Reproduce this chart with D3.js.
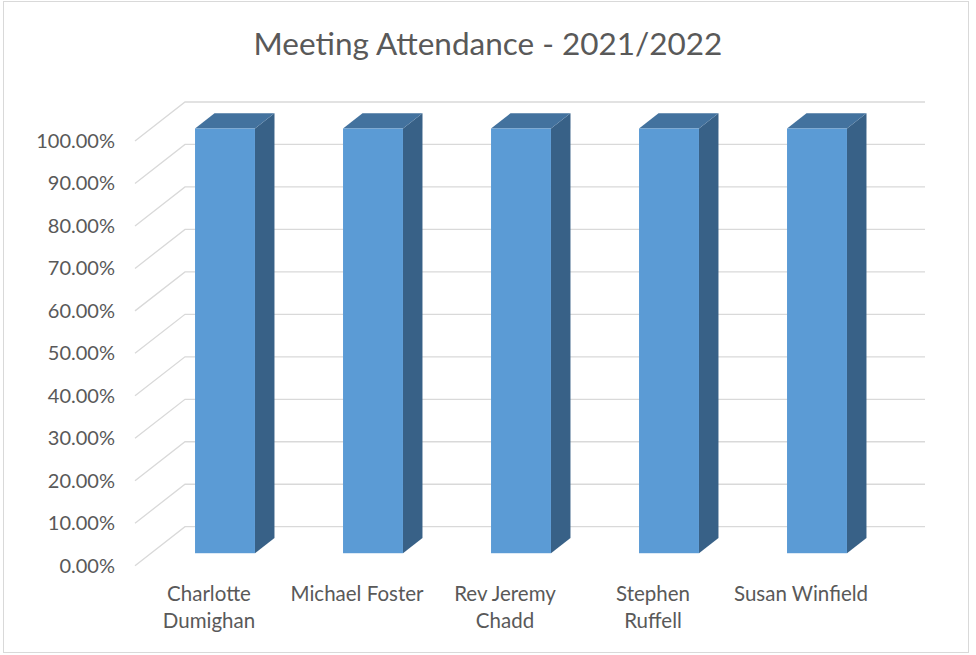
<!DOCTYPE html>
<html>
<head>
<meta charset="utf-8">
<script src="https://cdn.jsdelivr.net/npm/d3@7"></script>
<style>
  body { margin: 0; background: #fff; }
  text { font-family: Lato, "Open Sans", sans-serif; fill: #595959; }
</style>
</head>
<body>
<svg width="976" height="655"></svg>
<script>
var categories = ["Charlotte Dumighan", "Michael Foster", "Rev Jeremy Chadd", "Stephen Ruffell", "Susan Winfield"];
var labelLines = [["Charlotte", "Dumighan"], ["Michael Foster"], ["Rev Jeremy", "Chadd"], ["Stephen", "Ruffell"], ["Susan Winfield"]];
var attendance = [1.0, 1.0, 1.0, 1.0, 1.0];
var yTicks = [0, 0.1, 0.2, 0.3, 0.4, 0.5, 0.6, 0.7, 0.8, 0.9, 1.0];

var svg = d3.select("svg"),
    width = +svg.attr("width"),
    height = +svg.attr("height");

// chart border
svg.append("rect")
    .attr("x", 3.5).attr("y", 1.5)
    .attr("width", 965).attr("height", 651)
    .attr("fill", "#fff")
    .attr("stroke", "#d9d9d9");

// 3d depth of the plot box
var depth = { dx: 50, dy: -39 };
var barNear = 0.32, barFar = 0.71;

var x = d3.scaleBand()
    .domain(categories)
    .range([135, 875])
    .paddingInner(0.595)
    .paddingOuter(0.2975);

var y = d3.scaleLinear()
    .domain([0, 1])
    .range([565.7, 141]);

var fmt = d3.format(".2%");

// gridlines: side wall diagonal + back wall horizontal
var grid = svg.append("g").attr("class", "grid");
grid.selectAll("path")
    .data(yTicks)
    .enter().append("path")
    .attr("d", function(d) {
        var x0 = 135, y0 = y(d);
        return "M" + x0 + "," + y0 +
               "L" + (x0 + depth.dx) + "," + (y0 + depth.dy) +
               "H" + (875 + depth.dx);
    })
    .attr("fill", "none")
    .attr("stroke", "#d9d9d9")
    .attr("stroke-width", 1.3);

// y tick labels
svg.append("g").selectAll("text")
    .data(yTicks)
    .enter().append("text")
    .attr("x", 115)
    .attr("y", function(d) { return y(d); })
    .attr("dy", "0.35em")
    .attr("text-anchor", "end")
    .style("font-size", "20px")
    .text(function(d) { return fmt(d); });

// bars
var bars = svg.append("g").selectAll("g")
    .data(categories.map(function(c, i) { return { name: c, value: attendance[i] }; }))
    .enter().append("g");

function offX(t) { return depth.dx * t; }
function offY(t) { return depth.dy * t; }

bars.each(function(d) {
    var g = d3.select(this);
    var bw = x.bandwidth();
    var fx = x(d.name) + offX(barNear),
        ftop = y(d.value) + offY(barNear),
        fbot = y(0) + offY(barNear);
    var ddx = offX(barFar - barNear), ddy = offY(barFar - barNear);

    // side face
    g.append("path")
        .attr("d", "M" + (fx + bw) + "," + ftop +
                   "L" + (fx + bw + ddx) + "," + (ftop + ddy) +
                   "L" + (fx + bw + ddx) + "," + (fbot + ddy) +
                   "L" + (fx + bw) + "," + fbot + "Z")
        .attr("fill", "#386187");
    // top face
    g.append("path")
        .attr("d", "M" + fx + "," + ftop +
                   "L" + (fx + ddx) + "," + (ftop + ddy) +
                   "L" + (fx + bw + ddx) + "," + (ftop + ddy) +
                   "L" + (fx + bw) + "," + ftop + "Z")
        .attr("fill", "#43729e");
    // front face
    g.append("rect")
        .attr("x", fx)
        .attr("y", ftop)
        .attr("width", bw)
        .attr("height", fbot - ftop)
        .attr("fill", "#5b9bd5");
});

// category labels
var labels = svg.append("g").selectAll("text")
    .data(categories)
    .enter().append("text")
    .attr("text-anchor", "middle")
    .style("font-size", "20.5px")
    .attr("transform", function(d) {
        return "translate(" + (x(d) + x.bandwidth() / 2) + ",601)";
    });

labels.selectAll("tspan")
    .data(function(d, i) { return labelLines[i]; })
    .enter().append("tspan")
    .attr("x", 0)
    .attr("y", function(d, i) { return i * 27; })
    .text(function(d) { return d; });

// title
svg.append("text")
    .attr("x", 488)
    .attr("y", 55)
    .attr("text-anchor", "middle")
    .style("font-size", "31.5px")
    .text("Meeting Attendance - 2021/2022");
</script>
</body>
</html>
